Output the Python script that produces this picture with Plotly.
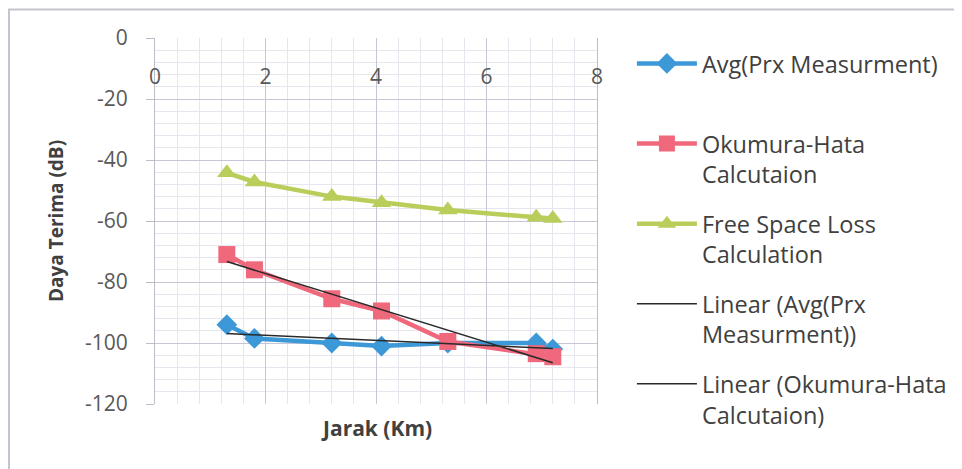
import numpy as np
import plotly.graph_objects as go

# ---- data ----
jarak_km = [1.3, 1.8, 3.2, 4.1, 5.3, 6.9, 7.2]
avg_prx = [-94.0, -98.5, -100.0, -101.0, -100.0, -100.0, -102.0]
okumura_hata = [-71.0, -76.0, -85.5, -89.5, -99.5, -103.5, -104.5]
free_space = [-44.2, -47.2, -52.0, -54.0, -56.4, -58.8, -59.2]

x_ticks = [0, 2, 4, 6, 8]
x_tick_labels = ["0", "2", "4", "6", "8"]
y_ticks = [0, -20, -40, -60, -80, -100, -120]
y_tick_labels = ["0", "-20", "-40", "-60", "-80", "-100", "-120"]

names = {
    "avg": "Avg(Prx Measurment)<br> ",
    "oh": "Okumura-Hata<br>Calcutaion",
    "fs": "Free Space Loss<br>Calculation",
    "lin_avg": "Linear (Avg(Prx<br>Measurment))",
    "lin_oh": "Linear (Okumura-Hata<br>Calcutaion)",
}

BLUE = "#3d98d8"
PINK = "#f0687c"
GREEN = "#b9cd5a"
TEXT = "#404040"
TICK = "#595959"
FONT = "Open Sans"

fig = go.Figure()

fig.add_trace(go.Scatter(
    x=jarak_km, y=avg_prx, name=names["avg"], mode="lines+markers",
    line=dict(color=BLUE, width=4.5),
    marker=dict(symbol="diamond", size=16, color=BLUE),
    legendgroup="a",
))
fig.add_trace(go.Scatter(
    x=jarak_km, y=okumura_hata, name=names["oh"], mode="lines+markers",
    line=dict(color=PINK, width=4.5),
    marker=dict(symbol="square", size=17, color=PINK),
    legendgroup="b",
))
fig.add_trace(go.Scatter(
    x=jarak_km, y=free_space, name=names["fs"], mode="lines+markers",
    line=dict(color=GREEN, width=4.5),
    marker=dict(symbol="triangle-up", size=17, color=GREEN),
    legendgroup="c",
))

# linear trendlines (least-squares fit of the series above)
xs = np.array([min(jarak_km), max(jarak_km)])
for key, series, grp in [("lin_avg", avg_prx, "d"), ("lin_oh", okumura_hata, "e")]:
    m, b = np.polyfit(jarak_km, series, 1)
    fig.add_trace(go.Scatter(
        x=xs, y=m * xs + b, name=names[key], mode="lines",
        line=dict(color="#2a2a2a", width=1.5),
        legendgroup=grp,
    ))

fig.update_layout(
    width=962, height=469,
    margin=dict(l=147, r=373, t=30, b=73, autoexpand=False),
    paper_bgcolor="white", plot_bgcolor="white",
    font=dict(family=FONT, size=20, color=TEXT),
    showlegend=True,
    legend=dict(
        x=1.079, xanchor="left", y=0.99, yanchor="top",
        font=dict(family=FONT, size=23.5, color=TEXT),
        valign="top", tracegroupgap=16, itemwidth=60,
        maxheight=440,
        bgcolor="rgba(0,0,0,0)",
    ),
    xaxis=dict(
        range=[0, 8], tickvals=x_ticks, ticktext=x_tick_labels,
        anchor="free", position=0.934, side="bottom",
        tickfont=dict(family=FONT, size=21, color=TICK),
        showgrid=True, gridcolor="#c6c6d4", gridwidth=1,
        minor=dict(dtick=0.4, showgrid=True, gridcolor="#e6e6ee"),
        showline=False, zeroline=False, ticks="",
    ),
    yaxis=dict(
        range=[-120, 0], tickvals=y_ticks, ticktext=y_tick_labels,
        tickfont=dict(family=FONT, size=21, color=TICK),
        ticks="outside", ticklen=8, tickcolor="#bdbdc8",
        ticklabelstandoff=14,
        showgrid=True, gridcolor="#c6c6d4", gridwidth=1,
        minor=dict(dtick=4, showgrid=True, gridcolor="#e6e6ee"),
        showline=True, linecolor="#bdbdc8", mirror=True,
        zeroline=False,
        title=dict(text="<b>Daya Terima (dB)</b>", standoff=16,
                   font=dict(family=FONT, size=19, color=TEXT)),
    ),
    annotations=[dict(
        text="<b>Jarak (Km)</b>", xref="paper", yref="paper",
        x=0.5, y=-0.065, xanchor="center", yanchor="middle",
        showarrow=False, font=dict(family=FONT, size=21, color=TEXT),
    )],
    shapes=[dict(
        type="rect", xref="paper", yref="paper",
        x0=-0.3303, x1=1.84, y0=-0.19, y1=1.0779,
        line=dict(color="#c4c4ce", width=2),
    )],
)

fig.write_html("out.html")
